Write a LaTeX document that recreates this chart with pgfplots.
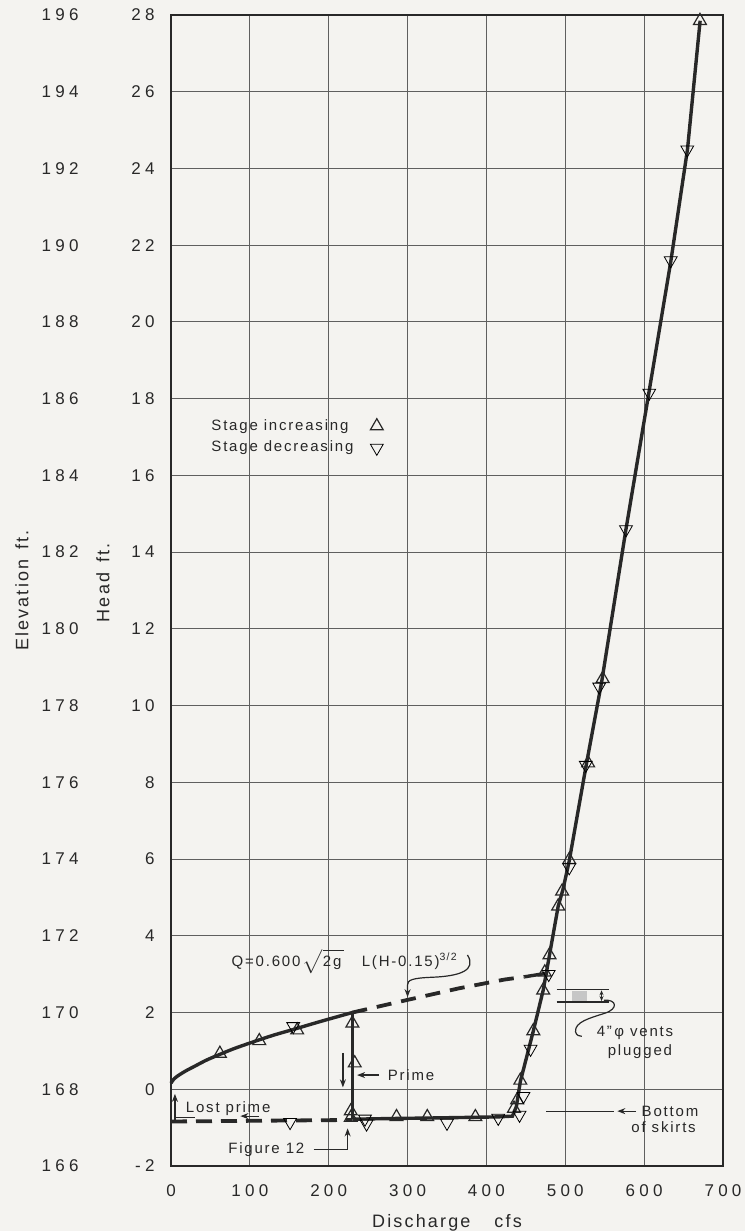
\documentclass[border=0pt]{standalone}
\usepackage{pgfplots}
\pgfplotsset{compat=1.18}
\usetikzlibrary{arrows.meta}
\usepackage{fontspec}
\setmainfont{Liberation Sans}[LetterSpace=12]
\newfontfamily\tickfont{Liberation Sans}[LetterSpace=25]
\definecolor{bg}{RGB}{244,243,240}
\definecolor{ink}{RGB}{40,40,40}
\definecolor{gridc}{RGB}{95,95,95}
\pgfplotsset{curve/.style={ink, line width=1.7pt, no marks},
  tri/.style={only marks, mark=triangle, mark size=3.7pt, mark options={fill=bg, draw=ink, line width=0.6pt}}}
\begin{document}
\begin{tikzpicture}[font=\fontsize{7.5}{9}\selectfont, every node/.append style={text=ink}, >={Stealth[length=4pt,width=3pt]}]
\path[use as bounding box, fill=bg] (-85.5pt,-32.5pt) rectangle (287pt,583pt);
% elevation scale
\begin{axis}[at={(0,0)}, anchor=south west, scale only axis, width=276pt, height=575.5pt,
  xmin=0, xmax=700, ymin=166, ymax=196, hide x axis, axis y line*=left,
  y axis line style={draw=none}, ytick={166,168,170,172,174,176,178,180,182,184,186,188,190,192,194,196},
  yticklabels={166,168,170,172,174,176,178,180,182,184,186,188,190,192,194,196},
  major tick length=0pt,
  yticklabel style={font=\tickfont\fontsize{8.5}{10}\selectfont, anchor=east, inner sep=0pt, xshift=-46pt}]
\addplot[draw=none, no marks] coordinates {(0,170)(1,171)};
\end{axis}
% head scale
\begin{axis}[at={(0,0)}, anchor=south west, scale only axis, width=276pt, height=575.5pt,
  xmin=0, xmax=700, ymin=-2, ymax=28,
  xtick={0,100,200,300,400,500,600,700}, xticklabels={0,100,200,300,400,500,600,700},
  ytick={-2,0,2,4,6,8,10,12,14,16,18,20,22,24,26,28},
  yticklabels={-2,0,2,4,6,8,10,12,14,16,18,20,22,24,26,28},
  grid=major, major grid style={gridc, line width=0.5pt}, major tick length=0pt,
  axis line style={ink, line width=0.9pt},
  ticklabel style={font=\tickfont\fontsize{8.5}{10}\selectfont},
  yticklabel style={anchor=east, inner sep=0pt, xshift=-8pt},
  xticklabel style={anchor=base, inner sep=0pt, yshift=-15pt},
  clip=false,
  legend plot pos=right, legend cell align=left,
  legend style={at={(axis cs:47,17)}, anchor=west, draw=none, fill=none,
    font=\fontsize{7.5}{9}\selectfont, row sep=1pt, column sep=7pt, inner sep=0pt, nodes={inner sep=1.5pt}}]
% weir curve (solid part)
\addplot[curve, smooth, forget plot] coordinates {(0,0.16)(3,0.25)(8,0.34)(18,0.47)(30,0.6)(45,0.76)(62,0.91)(80,1.06)(105,1.24)(130,1.41)(157,1.57)(190,1.77)(230,2.0)};
% weir curve (dashed extension)
\addplot[ink, line width=1.9pt, dash pattern=on 7.5pt off 5pt, forget plot] coordinates {(230,2.0)(300,2.33)(365,2.63)(423,2.86)(448,2.93)};
\addplot[curve, forget plot] coordinates {(448,2.93)(478,3.03)};
% prime vertical
\addplot[curve, forget plot] coordinates {(230,2.0)(230,-0.78)};
% lost prime dashed
\addplot[ink, line width=1.9pt, dash pattern=on 8pt off 4.5pt, forget plot] coordinates {(0,-0.84)(230,-0.8)};
% lower branch and steep rise
\addplot[curve, forget plot] coordinates {(230,-0.78)(286,-0.76)(325,-0.75)(386,-0.73)(415,-0.72)(433,-0.7)(438,-0.45)(443,0.2)(459.5,1.52)(472,2.58)(480,3.5)(491,4.77)(497,5.2)(505,5.95)(527,8.5)(546,10.6)(577,14.6)(606,18.15)(634,21.6)(655,24.5)(671,27.85)};
% stage increasing
\addplot[tri] coordinates {(62,0.93)(112,1.26)(160,1.54)(230,1.72)(233,0.68)(228,-0.57)(228,-0.74)(286,-0.72)(325,-0.72)(386,-0.72)(435,-0.5)(439,-0.28)(443,0.23)(459.5,1.52)(472,2.58)(474,3.05)(480,3.5)(491,4.77)(496,5.16)(505,5.98)(529,8.5)(547.4,10.7)(670.8,27.85)};
\addlegendentry{Stage increasing}
% stage decreasing
\addplot[tri, mark options={rotate=180}] coordinates {(155,1.64)(151,-0.86)(246,-0.77)(248,-0.9)(350,-0.88)(415,-0.75)(442,-0.67)(447,-0.18)(456,1.05)(479,3.0)(505,5.78)(526,8.45)(543,10.49)(577,14.59)(606.5,18.15)(633.7,21.6)(654.7,24.49)};
\addlegendentry{Stage decreasing}
% annotations
\node[anchor=west] at (axis cs:68,3.33) {Q=0.600\,$\sqrt{\mbox{2g\,}}$\ \ \ L(H-0.15)\textsuperscript{3/2}};
\draw[ink, line width=0.6pt, ->] (axis cs:376,3.5) .. controls (axis cs:388,3.1) and (axis cs:366,2.95) .. (axis cs:332,2.92) .. controls (axis cs:306,2.9) and (axis cs:300,2.85) .. (axis cs:300,2.72) -- (axis cs:300,2.4);
\draw[ink, line width=0.6pt, ->] (axis cs:264,0.37) -- (axis cs:236,0.37);
\node[anchor=west] at (axis cs:266,0.37) {Prime};
\draw[ink, line width=0.6pt, ->] (axis cs:218,0.95) -- (axis cs:218,0.05);
\node[anchor=west] at (axis cs:10,-0.5) {Lost prime};
\draw[ink, line width=0.6pt, ->] (axis cs:5,-0.8) -- (axis cs:5,-0.12);
\draw[ink, line width=0.6pt] (axis cs:5,-0.74) -- (axis cs:30,-0.74);
\draw[ink, line width=0.6pt, ->] (axis cs:112,-0.7) -- (axis cs:88,-0.7);
\node[anchor=east] at (axis cs:178,-1.57) {Figure 12};
\draw[ink, line width=0.6pt, ->] (axis cs:181,-1.57) -- (axis cs:224,-1.57) -- (axis cs:224,-1.02);
\draw[ink, line width=0.6pt] (axis cs:476,-0.57) -- (axis cs:562,-0.57);
\draw[ink, line width=0.6pt, ->] (axis cs:590,-0.57) -- (axis cs:566,-0.57);
\node[anchor=west] at (axis cs:588,-0.57) {Bottom};
\node[anchor=west] at (axis cs:575,-1.0) {of skirts};
\fill[gray!45] (axis cs:509,2.31) rectangle (axis cs:527,2.57);
\draw[ink, line width=0.8pt] (axis cs:489,2.6) -- (axis cs:556,2.6);
\draw[ink, line width=0.8pt] (axis cs:489,2.28) -- (axis cs:556,2.28);
\draw[ink, line width=0.5pt, {Stealth[length=2.5pt,width=2pt]}-{Stealth[length=2.5pt,width=2pt]}] (axis cs:546,2.3) -- (axis cs:546,2.58);
\draw[ink, line width=0.6pt] (axis cs:549,2.32) .. controls (axis cs:565,2.35) and (axis cs:568,2.1) .. (axis cs:550,1.98) .. controls (axis cs:530,1.85) and (axis cs:512,1.75) .. (axis cs:513,1.5) .. controls (axis cs:514,1.4) and (axis cs:518,1.38) .. (axis cs:521,1.38);
\node[anchor=west] at (axis cs:531,1.47) {4"\,φ vents};
\node[anchor=west] at (axis cs:545,0.99) {plugged};
% axis titles
\node[rotate=90, font=\fontsize{9}{10}\selectfont] at ([xshift=-34pt]axis cs:0,13.2) {Head\hspace{5pt}ft.};
\node[rotate=90, font=\fontsize{9}{10}\selectfont] at ([xshift=-74.5pt]axis cs:0,13.0) {Elevation\hspace{5pt}ft.};
\node[anchor=base, font=\fontsize{9}{10}\selectfont] at ([yshift=-30.5pt]axis cs:350,-2) {Discharge\hspace{12pt}cfs};
\end{axis}
\end{tikzpicture}
\end{document}
